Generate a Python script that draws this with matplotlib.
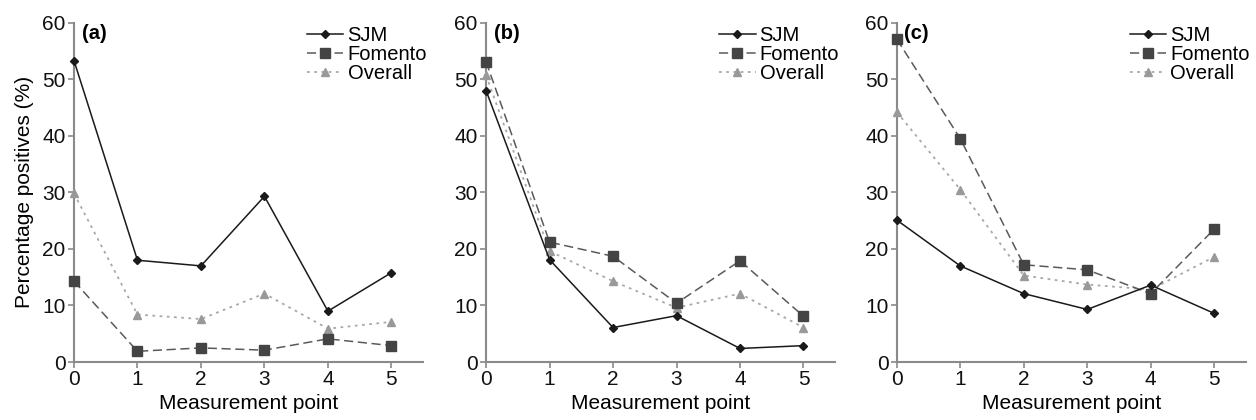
import matplotlib
matplotlib.use("Agg")
import matplotlib.pyplot as plt

plt.rcParams['font.family'] = ['Liberation Sans', 'DejaVu Sans']

points = [0, 1, 2, 3, 4, 5]
panel_labels = ['(a)', '(b)', '(c)']

# percentage positives per panel
sjm = [
    [53.3, 18.0, 17.0, 29.3, 9.0, 15.8],
    [48.0, 18.1, 6.1, 8.2, 2.4, 2.9],
    [25.1, 17.0, 12.1, 9.3, 13.6, 8.6],
]
fomento = [
    [14.3, 1.9, 2.5, 2.1, 4.1, 2.9],
    [53.1, 21.2, 18.7, 10.4, 17.9, 8.1],
    [57.1, 39.5, 17.2, 16.3, 12.1, 23.5],
]
overall = [
    [29.8, 8.4, 7.6, 12.1, 5.9, 7.1],
    [50.7, 19.6, 14.3, 9.6, 12.1, 6.1],
    [44.2, 30.5, 15.3, 13.7, 12.8, 18.6],
]

fig = plt.figure(figsize=(12.56, 4.2), dpi=100)
lefts = [0.0589, 0.387, 0.714]
for i in range(3):
    ax = fig.add_axes([lefts[i], 0.138, 0.278, 0.808])
    ax.plot(points, sjm[i], color='#1a1a1a', lw=1.1, marker='D', ms=4.5,
            label='SJM', clip_on=False, zorder=5)
    ax.plot(points, fomento[i], color='#5a5a5a', lw=1.1, ls=(0, (6, 3)),
            marker='s', ms=6.5, mfc='#444444', mec='#444444',
            label='Fomento', clip_on=False, zorder=4)
    ax.plot(points, overall[i], color='#a8a8a8', lw=1.3, ls=(0, (1.5, 2.5)),
            marker='^', ms=6, mfc='#999999', mec='#999999',
            label='Overall', clip_on=False, zorder=3)
    ax.set_xlim(0, 5.5)
    ax.set_ylim(0, 60)
    ax.set_xticks(points)
    ax.set_yticks([0, 10, 20, 30, 40, 50, 60])
    for s in ['top', 'right']:
        ax.spines[s].set_visible(False)
    for s in ['left', 'bottom']:
        ax.spines[s].set_color('#8a8a8a')
        ax.spines[s].set_linewidth(1.5)
    ax.tick_params(colors='#8a8a8a', labelcolor='#111111', labelsize=15,
                   length=4.5, width=1.2, pad=1.5)
    ax.set_xlabel('Measurement point', fontsize=15, labelpad=3)
    if i == 0:
        ax.set_ylabel('Percentage positives (%)', fontsize=15, labelpad=6)
    ax.text(0.022, 0.995, panel_labels[i], transform=ax.transAxes,
            fontsize=14.5, fontweight='bold', va='top', ha='left')
    ax.legend(loc='upper left', bbox_to_anchor=(0.668, 0.99), frameon=False,
              fontsize=14.5, handlelength=1.8, handletextpad=0.2,
              labelspacing=0, borderaxespad=0, borderpad=0)

fig.savefig('out.png', dpi=100)
